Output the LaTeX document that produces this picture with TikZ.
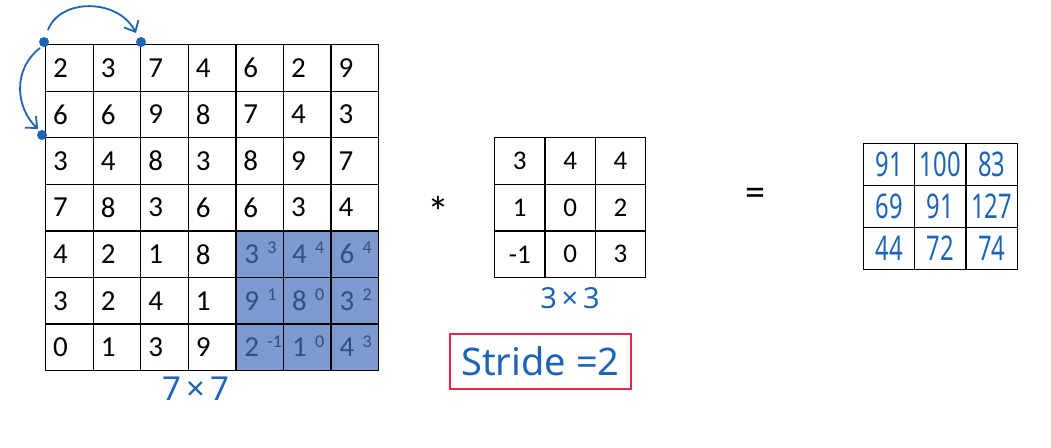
\documentclass[tikz,border=0pt]{standalone}
\usepackage{fontspec}
\setmainfont{Carlito}
\newfontfamily\hand{Noto Sans}
\newfontfamily\handn{Noto Sans}[FakeStretch=0.7]
\usetikzlibrary{arrows.meta}
\definecolor{shade}{RGB}{124,154,208}
\definecolor{shadetext}{RGB}{52,78,126}
\definecolor{ink}{RGB}{30,100,180}
\definecolor{boxred}{RGB}{232,38,74}
\tikzset{
  cellbox/.style={draw=black, line width=1.3pt, minimum width=47.57pt, minimum height=46.57pt, inner sep=0pt, anchor=north west},
  shadebox/.style={cellbox, fill=shade},
  fcell/.style={draw=black, line width=1.3pt, minimum width=50.33pt, minimum height=46.67pt, inner sep=0pt, anchor=north west, font=\fontsize{27}{30}\selectfont},
  ocell/.style={draw=black, line width=1.3pt, minimum width=51.33pt, minimum height=42pt, inner sep=0pt, anchor=north west, font=\handn\fontsize{34}{38}\selectfont, text=ink},
  num/.style={anchor=west, inner sep=0pt, font=\fontsize{29}{32}\selectfont},
  snum/.style={num, text=shadetext},
  sup/.style={anchor=west, inner sep=0pt, font=\fontsize{18}{20}\selectfont, text=shadetext},
  handtext/.style={inner sep=0pt, text=ink, font=\hand\fontsize{30}{34}\selectfont},
  dot/.style={circle, fill=ink, inner sep=0pt, minimum size=10pt},
  arc/.style={draw=ink, line width=1.8pt, -{Straight Barb[length=9pt,width=16pt]}}
}
\begin{document}
\begin{tikzpicture}[x=1pt,y=-1pt]
\useasboundingbox (0,0) rectangle (1051,447);
% big 7x7 grid
\foreach \rowlist [count=\r from 0] in {{2,3,7,4,6,2,9},{6,6,9,8,7,4,3},{3,4,8,3,8,9,7},{7,8,3,6,6,3,4},{4,2,1,8,3,4,6},{3,2,4,1,9,8,3},{0,1,3,9,2,1,4}}{
  \foreach \v [count=\c from 0] in \rowlist {
    \pgfmathsetmacro{\xl}{45+47.57*\c}
    \pgfmathsetmacro{\yt}{44+46.57*\r}
    \pgfmathtruncatemacro{\inshade}{(\r>3)&&(\c>3)?1:0}
    \ifnum\inshade=1
      \node[shadebox] (g-\r-\c) at (\xl,\yt) {};
      \node[snum] (t-\r-\c) at ([xshift=9pt]g-\r-\c.west) {\v};
    \else
      \node[cellbox] (g-\r-\c) at (\xl,\yt) {};
      \node[num] (t-\r-\c) at ([xshift=8pt]g-\r-\c.west) {\v};
    \fi
  }
}
% superscripts (filter weights)
\foreach \rowlist [count=\r from 4] in {{3,4,4},{1,0,2},{-1,0,3}}{
  \foreach \v [count=\c from 4] in \rowlist {
    \node[sup] (s-\r-\c) at ([xshift=32pt,yshift=6pt]g-\r-\c.west) {\v};
  }
}
% filter 3x3
\foreach \rowlist [count=\r from 0] in {{3,4,4},{1,0,2},{-1,0,3}}{
  \foreach \v [count=\c from 0] in \rowlist {
    \node[fcell] (f-\r-\c) at ({494+50.33*\c},{137+46.67*\r}) {\v};
  }
}
% output 3x3
\foreach \rowlist [count=\r from 0] in {{91,100,83},{69,91,127},{44,72,74}}{
  \foreach \v [count=\c from 0] in \rowlist {
    \node[ocell] (o-\r-\c) at ({862.7+51.33*\c},{142.7+42*\r}) {\v};
  }
}
% operators
\node[inner sep=0pt, anchor=base, font=\fontsize{44}{46}\selectfont] (star) at (438.5,227) {*};
\node[inner sep=0pt, font=\fontsize{40}{42}\selectfont] (eq) at (755,197) {=};
% size labels
\node[handtext, font=\hand\fontsize{33}{38}\selectfont] (lab77) at (196,389) {7\,×\,7};
\node[handtext, font=\hand\fontsize{29}{34}\selectfont] (lab33) at (570,298) {3\,×\,3};
% stride box
\node[draw=boxred, line width=2.4pt, minimum width=181pt, minimum height=55pt, inner sep=0pt, handtext, font=\hand\fontsize{38}{42}\selectfont] (stride) at (540.5,361.5) {Stride =2};
% arcs and dots
\node[dot] (dA) at (44,42) {};
\node[dot] (dB) at (141,42) {};
\node[dot] (dC) at (42,135) {};
\coordinate (a1s) at (48,30);
\coordinate (a1e) at (136,33);
\coordinate (a2s) at (40,48);
\coordinate (a2e) at (38,129);
\draw[arc] (a1s) .. controls (60,-2) and (118,-2) .. (a1e);
\draw[arc] (a2s) .. controls (12,70) and (16,108) .. (a2e);
\end{tikzpicture}
\end{document}
